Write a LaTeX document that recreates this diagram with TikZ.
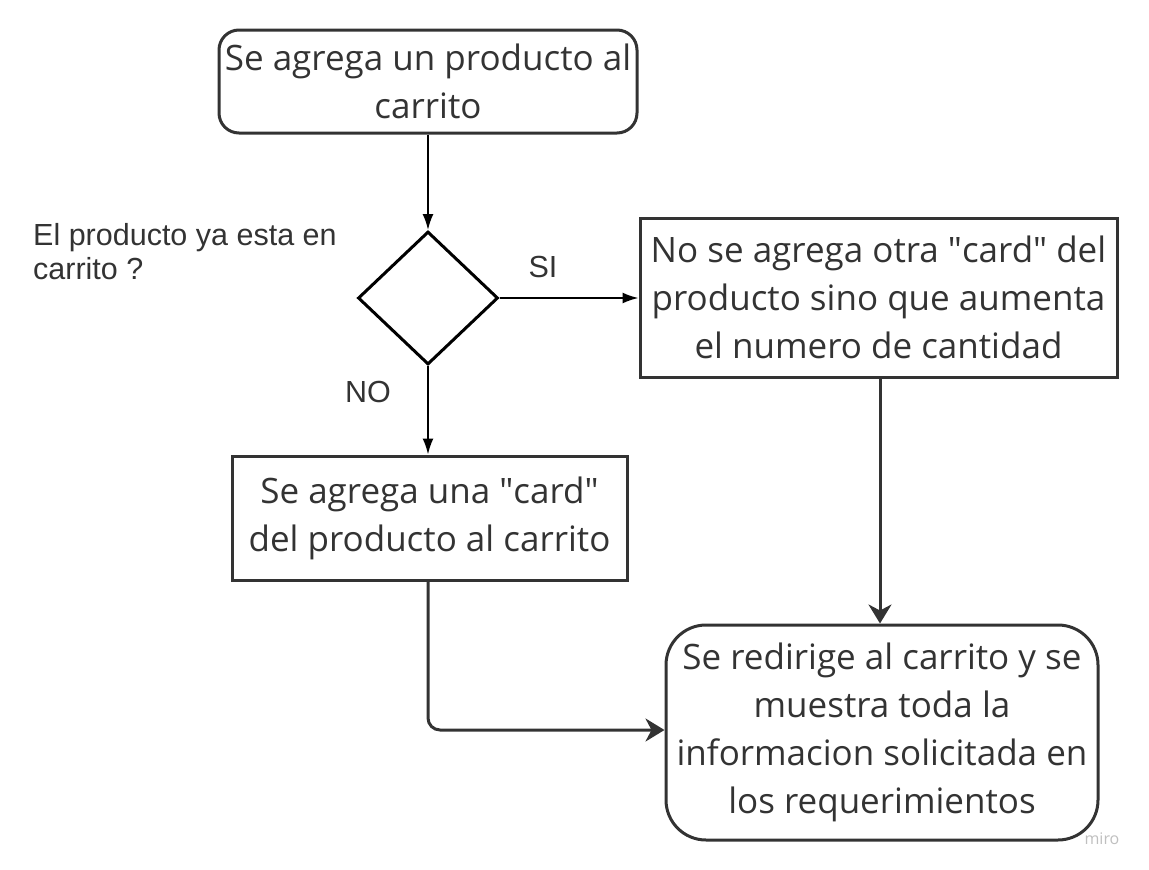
\documentclass[tikz,border=0pt]{standalone}
\usepackage{fontspec}
\setmainfont{Open Sans}
\newfontfamily\arialfont{Liberation Sans}
\usepackage{tikz}
\usetikzlibrary{shapes.geometric}
\usetikzlibrary{arrows}
\usetikzlibrary{arrows.meta}
\definecolor{tinta}{HTML}{333333}
\newcommand{\cita}[1]{\textquotedbl#1\textquotedbl}
\tikzstyle{every node}=[font=\fontsize{35}{48}\selectfont, text=tinta, inner sep=0pt]
\tikzstyle{caja}=[draw=tinta, line width=3pt, align=center]
\tikzstyle{etiqueta}=[font=\arialfont\fontsize{30.5}{34}\selectfont]
\tikzstyle{fina}=[line width=1.8pt, -{Latex[length=16pt, width=11pt]}]
\tikzstyle{gruesa}=[line width=3pt, draw=tinta, -{Stealth[length=19pt, width=23pt, inset=6pt]}]

\begin{document}
\begin{tikzpicture}[>=latex, x=1pt, y=-1pt]
            \useasboundingbox (0, 0) rectangle (1149, 870);

            \node [caja, rounded corners=20pt, minimum width=418pt, minimum height=103pt] (inicio) at (428, 81.5) {Se agrega un producto al\\carrito};
            \node [draw=black, line width=3pt, diamond, minimum width=140pt, minimum height=133pt] (pregunta) at (428, 298) {};
            \node [caja, minimum width=477pt, minimum height=159pt] (aumenta) at (878.5, 297.5) {No se agrega otra \cita{card} del\\producto sino que aumenta\\el numero de cantidad};
            \node [caja, minimum width=395pt, minimum height=124pt] (agrega) at (429.5, 518) {Se agrega una \cita{card}\\del producto al carrito};
            \node [caja, rounded corners=40pt, minimum width=432pt, minimum height=215pt] (carrito) at (882, 732.5) {Se redirige al carrito y se\\muestra toda la\\informacion solicitada en\\los requerimientos};

            \node [etiqueta, anchor=north west, align=left] (texto) at (33, 223) {El producto ya esta en\\carrito ?};
            \node [etiqueta] (si) at (543, 267) {SI};
            \node [etiqueta] (no) at (368, 392) {NO};
            \node [font=\fontsize{16}{16}\selectfont, text=black!25] (marca) at (1102, 839) {miro};

            \draw [fina] (inicio.south) -- (pregunta.north);
            \draw [fina] (pregunta.east) -- (aumenta.west |- pregunta.east);
            \draw [fina] (pregunta.south) -- (pregunta.south |- agrega.north);
            \draw [gruesa] (aumenta.south -| 880, 0) -- (carrito.north -| 880, 0);
            \draw [gruesa, rounded corners=12pt] (agrega.south -| 428, 0) -- (428, 730) -- (carrito.west |- 0, 730);
        \end{tikzpicture}
\end{document}
